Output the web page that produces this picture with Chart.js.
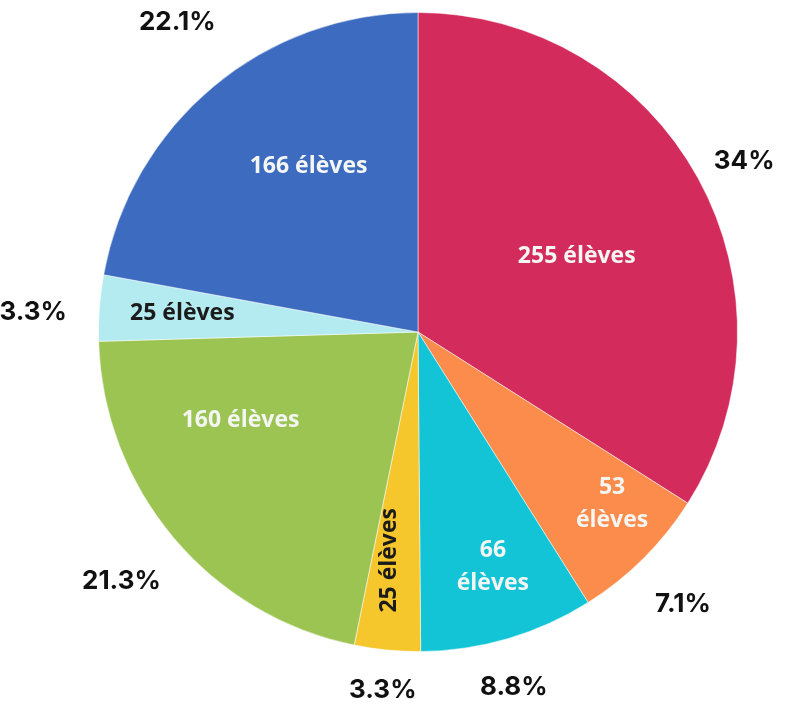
<!DOCTYPE html>
<html>
<head>
<meta charset="utf-8">
<script src="https://cdn.jsdelivr.net/npm/chart.js@4"></script>
<style>
    body { margin: 0; background: #ffffff; }
    #wrap { width: 793px; height: 711px; position: relative; }
</style>
</head>
<body>
<div id="wrap"><canvas id="pieChart"></canvas></div>
<script>
// Données
var valeurs = [255, 53, 66, 25, 160, 25, 166];
var couleurs = ['#d32b5b', '#fb8c4b', '#12c4d6', '#f5c72c', '#9cc453', '#b3ebf0', '#3d6bbf'];
var unite = 'élèves';

// Mise en page des étiquettes (séparée des données)
var texteSombre = [false, false, false, true, false, true, false];
var lignesMultiples = [false, true, true, false, false, false, false];
var rotation = [0, 0, 0, -90, 0, 0, 0];
var rayonInterne = [0.55, 0.81, 0.77, 0.72, 0.62, 0.74, 0.62];
var decalageInterne = [3.4, -3.7, -1.4, 1.5, 13.7, 0.3, 6.3];
var rayonPct = [1.153, 1.188, 1.15, 1.125, 1.213, 1.206, 1.228];
var decalagePct = [1.1, 0.6, 1.2, 0.1, 0, -1.3, 2];

var total = 0;
for (var i = 0; i < valeurs.length; i++) total += valeurs[i];

function pourcentage(v) {
    var p = (v / total * 100).toFixed(1);
    if (p.slice(-2) === '.0') p = p.slice(0, -2);
    return p + '%';
}

var etiquettesPlugin = {
    id: 'etiquettes',
    afterDatasetsDraw: function(chart) {
        var ctx = chart.ctx;
        var meta = chart.getDatasetMeta(0);
        for (var i = 0; i < meta.data.length; i++) {
            var arc = meta.data[i];
            var p = arc.getProps(['x', 'y', 'startAngle', 'endAngle', 'outerRadius'], true);
            var mid = (p.startAngle + p.endAngle) / 2;

            // étiquette intérieure
            var a = mid + decalageInterne[i] * Math.PI / 180;
            var r = p.outerRadius * rayonInterne[i];
            var x = p.x + Math.cos(a) * r;
            var y = p.y + Math.sin(a) * r;
            ctx.save();
            ctx.translate(x, y);
            ctx.rotate(rotation[i] * Math.PI / 180);
            ctx.font = 'bold 23px "Open Sans"';
            ctx.textAlign = 'center';
            ctx.textBaseline = 'middle';
            ctx.fillStyle = texteSombre[i] ? '#1b1b1b' : '#f4f6f4';
            if (lignesMultiples[i]) {
                ctx.fillText(String(valeurs[i]), 0, -16);
                ctx.fillText(unite, 0, 17);
            } else {
                ctx.fillText(valeurs[i] + ' ' + unite, 0, 0);
            }
            ctx.restore();

            // pourcentage extérieur
            var b = mid + decalagePct[i] * Math.PI / 180;
            var rp = p.outerRadius * rayonPct[i];
            ctx.save();
            ctx.font = 'bold 26px Inter';
            ctx.textAlign = 'center';
            ctx.textBaseline = 'middle';
            ctx.fillStyle = '#111111';
            ctx.fillText(pourcentage(valeurs[i]), p.x + Math.cos(b) * rp, p.y + Math.sin(b) * rp);
            ctx.restore();
        }
    }
};

var labels = [];
for (var i = 0; i < valeurs.length; i++) labels.push(valeurs[i] + ' ' + unite);

new Chart(document.getElementById('pieChart'), {
    type: 'pie',
    data: {
        labels: labels,
        datasets: [{
            data: valeurs,
            backgroundColor: couleurs,
            borderColor: 'rgba(255,255,255,0.5)',
            borderWidth: 1
        }]
    },
    options: {
        responsive: true,
        maintainAspectRatio: false,
        animation: false,
        layout: { padding: { left: 98, right: 55, top: 12, bottom: 59 } },
        plugins: {
            legend: { display: false },
            tooltip: { enabled: false }
        }
    },
    plugins: [etiquettesPlugin]
});
</script>
</body>
</html>
